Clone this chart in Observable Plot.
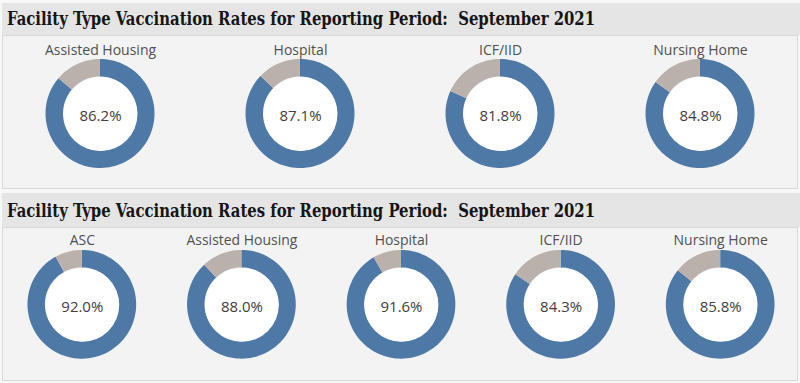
<!DOCTYPE html>
<html>
<head>
<meta charset="utf-8">
<script src="https://cdn.jsdelivr.net/npm/d3@7"></script>
<script src="https://cdn.jsdelivr.net/npm/@observablehq/plot@0.6"></script>
<style>
  html, body { margin: 0; padding: 0; }
  body { width: 800px; height: 383px; background: #f7f7f7; position: relative; overflow: hidden; }
  .hdr { position: absolute; left: 2px; width: 798px; background: #e5e5e5; }
  .ttl { position: absolute; left: 5px; white-space: nowrap; font-family: "DejaVu Serif Condensed", "DejaVu Serif", serif; font-weight: bold; font-size: 19px; color: #151515; transform-origin: 0 0; }
  .pnl { position: absolute; left: 2px; width: 796px; background: #f3f3f3; border: 1px solid #d9d9d9; box-sizing: border-box; }
  .plot { position: absolute; }
</style>
</head>
<body>
<div class="hdr" style="top:3px;height:32px"><div class="ttl" id="t1" style="top:4px"></div></div>
<div class="pnl" style="top:35px;height:154px"></div>
<div class="hdr" style="top:193px;height:34px"><div class="ttl" id="t2" style="top:6px"></div></div>
<div class="pnl" style="top:227px;height:154px"></div>
<div class="plot" id="p1" style="left:0px;top:35px"></div>
<div class="plot" id="p2" style="left:2px;top:227px"></div>
<script>
const titleText = "Facility Type Vaccination Rates for Reporting Period:\u00a0 September 2021";

const topNames = ["Assisted Housing", "Hospital", "ICF/IID", "Nursing Home"];
const topRates = [86.2, 87.1, 81.8, 84.8];

const bottomNames = ["ASC", "Assisted Housing", "Hospital", "ICF/IID", "Nursing Home"];
const bottomRates = [92.0, 88.0, 91.6, 84.3, 85.8];

const segmentNames = ["Vaccinated", "Not vaccinated"];
const segmentColors = ["#4e79a7", "#bab0ac"];

function donutRow(names, rates, opts) {
  const {width, height, cy, R, r0, labelDy} = opts;
  const colW = width / names.length;
  const rows = names.map((name, i) => ({name, rate: rates[i]}));
  const pts = [];
  const N = 120;
  for (const d of rows) {
    const split = (d.rate / 100) * 2 * Math.PI;
    const segs = [[segmentNames[0], 0, split], [segmentNames[1], split, 2 * Math.PI]];
    for (const [seg, a0, a1] of segs) {
      const n = Math.max(2, Math.ceil(N * (a1 - a0) / (2 * Math.PI)));
      for (let k = 0; k <= n; k++) {
        const t = a0 + (a1 - a0) * k / n;
        pts.push({name: d.name, seg, key: d.name + seg,
          x1: R * Math.sin(t), y1: R * Math.cos(t),
          x2: r0 * Math.sin(t), y2: r0 * Math.cos(t)});
      }
    }
  }
  return Plot.plot({
    width, height, margin: 0,
    style: {background: "transparent", overflow: "visible"},
    fx: {domain: names, padding: 0, axis: null},
    x: {domain: [-colW / 2, colW / 2], axis: null},
    y: {domain: [cy - height, cy], axis: null},
    color: {domain: segmentNames, range: segmentColors},
    marks: [
      Plot.area(pts, {fx: "name", x1: "x1", y1: "y1", x2: "x2", y2: "y2", z: "key", fill: "seg", curve: "linear"}),
      Plot.dot(rows, {fx: "name", x: 0, y: 0, r: r0, fill: "white", stroke: "none"}),
      Plot.text(rows, {fx: "name", x: 0, y: 0, dy: 2, text: d => d.rate.toFixed(1) + "%",
        fontFamily: "Open Sans", fontSize: 15, fill: "#404040"}),
      Plot.text(rows, {fx: "name", frameAnchor: "top", lineAnchor: "middle", dy: labelDy, text: "name",
        fontFamily: "Open Sans", fontSize: 14, fill: "#505050"})
    ]
  });
}

document.getElementById("p1").appendChild(
  donutRow(topNames, topRates, {width: 800, height: 153, cy: 78.5, R: 54.5, r0: 37, labelDy: 15.5}));
document.getElementById("p2").appendChild(
  donutRow(bottomNames, bottomRates, {width: 800, height: 153, cy: 77.5, R: 54.5, r0: 37, labelDy: 13.5}));

for (const id of ["t1", "t2"]) {
  const el = document.getElementById(id);
  el.textContent = titleText;
  const w = el.getBoundingClientRect().width;
  el.style.transform = `scaleX(${588 / w})`;
}
</script>
</body>
</html>
